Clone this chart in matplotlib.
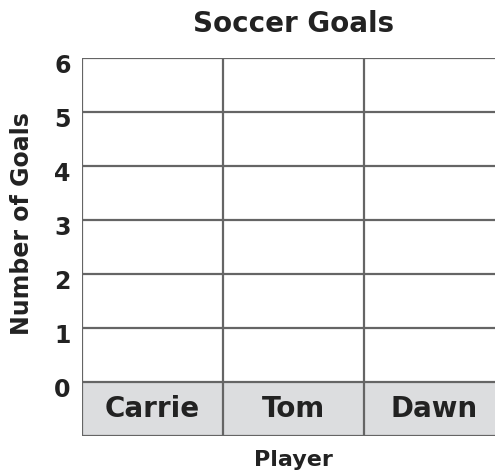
import matplotlib.pyplot as plt
from matplotlib.transforms import ScaledTranslation

# chart content
title = "Soccer Goals"
players = ["Carrie", "Tom", "Dawn"]
goal_ticks = [0, 1, 2, 3, 4, 5, 6]
ylabel = "Number of Goals"
xlabel = "Player"

line_col = "#656565"
text_col = "#222222"
box_col = "#dcdddf"

fig = plt.figure(figsize=(4.95, 4.75), dpi=100)
# axes run past the right edge on purpose (last column is cut off in the original)
ax = fig.add_axes([81.7 / 495, 39.3 / 475, 423.3 / 495, 377.7 / 475])

n = len(players)
ymax = goal_ticks[-1]
ax.set_xlim(0, n)
ax.set_ylim(-1, ymax)

# grey label row under the grid
ax.axhspan(-1, 0, color=box_col, lw=0, zorder=0)

# grid lines
ax.hlines(goal_ticks + [-1], 0, n, colors=line_col, lw=1.6, zorder=2)
ax.vlines(range(n + 1), -1, ymax, colors=line_col, lw=1.6, zorder=2)

for i, name in enumerate(players):
    ax.text(i + 0.5, -0.5, name, ha="center", va="center", fontsize=20,
            fontweight="bold", color=text_col)

for s in ax.spines.values():
    s.set_visible(False)
ax.set_xticks([])
ax.set_yticks(goal_ticks)
ax.set_yticklabels([str(v) for v in goal_ticks])
ax.tick_params(axis="y", length=0, pad=8, labelsize=17, labelcolor=text_col)
for lab in ax.get_yticklabels():
    lab.set_fontweight("bold")
    lab.set_transform(lab.get_transform() + ScaledTranslation(0, -4 / 72, fig.dpi_scale_trans))

ax.set_title(title, fontsize=20, fontweight="bold", color=text_col, pad=19)
ax.set_xlabel(xlabel, fontsize=16, fontweight="bold", color=text_col, labelpad=10)
fig.text(22 / 495, 1 - 224 / 475, ylabel, rotation=90, ha="center", va="center",
         fontsize=17, fontweight="bold", color=text_col)

fig.savefig("out.png", dpi=100)
